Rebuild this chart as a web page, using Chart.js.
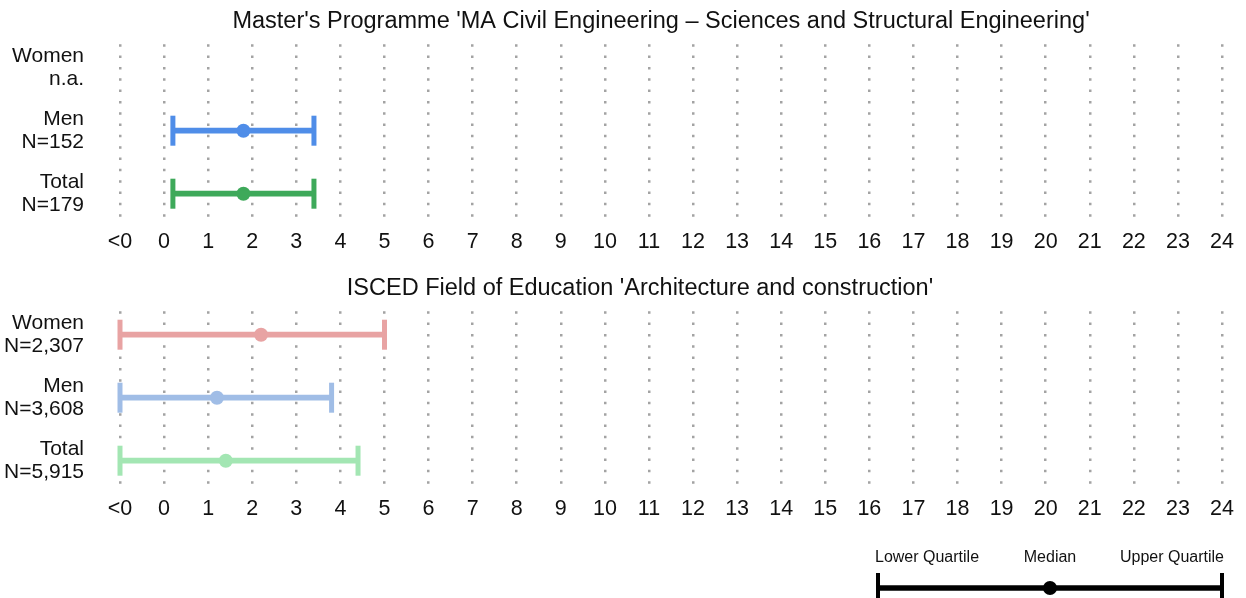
<!DOCTYPE html>
<html>
<head>
<meta charset="utf-8">
<script src="https://cdn.jsdelivr.net/npm/chart.js@4"></script>
<style>
  body { margin: 0; background: #fff; }
  canvas { display: block; }
</style>
</head>
<body>
<canvas id="panelTop" width="1246" height="267"></canvas>
<canvas id="panelBottom" width="1246" height="267"></canvas>
<canvas id="legendChart" width="1246" height="64"></canvas>
<script>
const groups = ['Women', 'Men', 'Total'];
const tickLabels = ['<0', '0', '1', '2', '3', '4', '5', '6', '7', '8', '9', '10', '11', '12',
  '13', '14', '15', '16', '17', '18', '19', '20', '21', '22', '23', '24'];

const topTitle = "Master's Programme 'MA Civil Engineering \u2013 Sciences and Structural Engineering'";
const topCounts = ['n.a.', 'N=152', 'N=179'];
const topLower = [null, 0.2, 0.2];
const topMedian = [null, 1.8, 1.8];
const topUpper = [null, 3.4, 3.4];

const bottomTitle = "ISCED Field of Education 'Architecture and construction'";
const bottomCounts = ['N=2,307', 'N=3,608', 'N=5,915'];
const bottomLower = [-1, -1, -1];
const bottomMedian = [2.2, 1.2, 1.4];
const bottomUpper = [5, 3.8, 4.4];

const legendLabels = ['Lower Quartile', 'Median', 'Upper Quartile'];
const legendStats = [0, 0.5, 1];

const strongColors = ['#e8a0a0', '#4f8de8', '#3ea95a'];
const softColors = ['#e8a3a3', '#a0bde6', '#a3e6b3'];

const font = "'Liberation Sans', Arial, sans-serif";

// nudge the title sideways so it sits where the original put it
const titleShift = {
  id: 'titleShift',
  afterLayout(chart, args, opts) {
    const t = chart.titleBlock;
    if (t && opts.dx) { t.left += opts.dx; t.right += opts.dx; }
  },
};

function makePanel(id, title, counts, lower, median, upper, colors, dx) {
  const caps = [], capColors = [], mids = [], midColors = [];
  groups.forEach((g, i) => {
    if (lower[i] == null) return;
    caps.push({ x: lower[i], y: g }, { x: upper[i], y: g });
    capColors.push(colors[i], colors[i]);
    mids.push({ x: median[i], y: g });
    midColors.push(colors[i]);
  });

  return new Chart(document.getElementById(id), {
    type: 'bar',
    data: {
      labels: groups,
      datasets: [
        {
          type: 'bar',
          data: groups.map((g, i) => (lower[i] == null ? null : [lower[i], upper[i]])),
          backgroundColor: colors,
          barThickness: 5,
          borderWidth: 0,
        },
        {
          type: 'scatter',
          data: caps,
          pointStyle: 'line',
          rotation: 90,
          radius: 15,
          borderWidth: 5,
          borderColor: capColors,
          clip: false,
        },
        {
          type: 'scatter',
          data: mids,
          pointStyle: 'circle',
          radius: 7,
          borderWidth: 0,
          backgroundColor: midColors,
          clip: false,
        },
      ],
    },
    options: {
      indexAxis: 'y',
      responsive: false,
      animation: false,
      events: [],
      layout: { autoPadding: false, padding: { left: 0, right: 24, top: 0, bottom: 8 } },
      plugins: {
        legend: { display: false },
        tooltip: { enabled: false },
        titleShift: { dx },
        title: {
          display: true,
          text: title,
          color: '#111',
          font: { family: font, size: 23.5, weight: 'normal', lineHeight: 1.2 },
          padding: { top: 7, bottom: 1 },
        },
      },
      scales: {
        x: {
          type: 'linear',
          min: -1,
          max: 24,
          ticks: {
            stepSize: 1,
            color: '#111',
            padding: 4,
            maxRotation: 0,
            autoSkip: false,
            font: { family: font, size: 21.5, lineHeight: 1.2 },
            callback: v => tickLabels[v + 1],
          },
          grid: { color: '#a3a3a3', lineWidth: 2.5, drawTicks: false },
          border: { display: false, dash: [2.5, 8.83], dashOffset: 3.3 },
        },
        y: {
          type: 'category',
          offset: true,
          afterFit: scale => {
            scale.width = 120;
            scale.paddingTop = 0;
            scale.paddingBottom = 0;
          },
          ticks: {
            color: '#111',
            padding: 36,
            font: { family: font, size: 21, lineHeight: 1.1 },
            callback: (v, i) => [groups[i], counts[i]],
          },
          grid: { display: false, drawTicks: false },
          border: { display: false },
        },
      },
    },
    plugins: [titleShift],
  });
}

makePanel('panelTop', topTitle, topCounts, topLower, topMedian, topUpper, strongColors, 50);
makePanel('panelBottom', bottomTitle, bottomCounts, bottomLower, bottomMedian, bottomUpper, softColors, 29);

// legend captions sit above the key, aligned to the quartile/median positions
const legendText = {
  id: 'legendText',
  afterDraw(chart) {
    const { ctx, scales: { x } } = chart;
    const aligns = ['left', 'center', 'right'];
    ctx.save();
    ctx.font = '16px ' + font;
    ctx.fillStyle = '#111';
    ctx.textBaseline = 'middle';
    legendStats.forEach((v, i) => {
      ctx.textAlign = aligns[i];
      ctx.fillText(legendLabels[i], x.getPixelForValue(v) + (i === 0 ? -3 : i === 2 ? 2 : 0), 24);
    });
    ctx.restore();
  },
};

new Chart(document.getElementById('legendChart'), {
  type: 'bar',
  data: {
    labels: ['key'],
    datasets: [
      {
        type: 'bar',
        data: [[legendStats[0], legendStats[2]]],
        backgroundColor: '#000',
        barThickness: 5,
        borderWidth: 0,
      },
      {
        type: 'scatter',
        data: [{ x: legendStats[0], y: 'key' }, { x: legendStats[2], y: 'key' }],
        pointStyle: 'line',
        rotation: 90,
        radius: 15,
        borderWidth: 4,
        borderColor: '#000',
        clip: false,
      },
      {
        type: 'scatter',
        data: [{ x: legendStats[1], y: 'key' }],
        pointStyle: 'circle',
        radius: 7,
        borderWidth: 0,
        backgroundColor: '#000',
        clip: false,
      },
    ],
  },
  options: {
    indexAxis: 'y',
    responsive: false,
    animation: false,
    events: [],
    layout: { autoPadding: false, padding: { left: 878, right: 24, top: 44, bottom: 0 } },
    plugins: { legend: { display: false }, tooltip: { enabled: false } },
    scales: {
      x: { type: 'linear', display: false, min: 0, max: 1 },
      y: { type: 'category', display: false, offset: true },
    },
  },
  plugins: [legendText],
});
</script>
</body>
</html>
